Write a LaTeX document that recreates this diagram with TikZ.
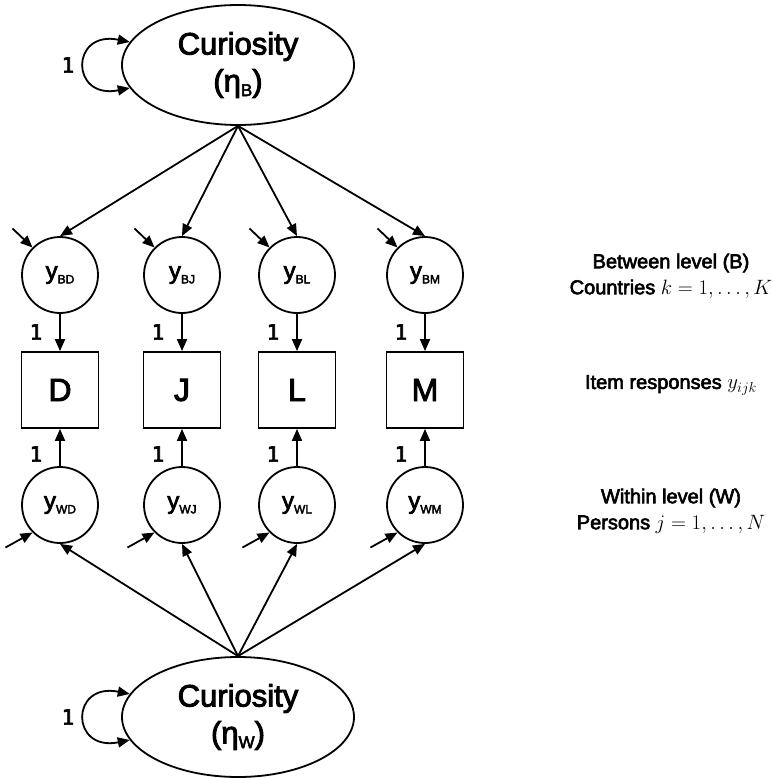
\documentclass[tikz,border=0pt]{standalone}
\usepackage{fontspec}
\setmainfont{Liberation Sans}[FakeBold=3]
\newfontfamily\monofont{DejaVu Sans Mono}[FakeBold=3]
\usetikzlibrary{arrows.meta,shapes.geometric}
\newcommand{\lsub}[2][12]{\raisebox{-4.5pt}{\fontsize{#1}{#1}\selectfont #2}}
\tikzset{
 arr/.style={line width=1.8pt, -{Triangle[length=12pt,width=10pt]}},
 dblarr/.style={line width=1.8pt, {Triangle[length=12pt,width=10pt]}-{Triangle[length=12pt,width=10pt]}},
 latent/.style={draw, line width=1.8pt, ellipse, minimum width=232pt, minimum height=120pt, inner sep=0pt, align=center, font=\fontsize{31}{37}\selectfont},
 resid/.style={draw, line width=1.8pt, circle, minimum size=76pt, inner sep=0pt, font=\fontsize{24}{24}\selectfont},
 obs/.style={draw, line width=1.8pt, rectangle, minimum width=77pt, minimum height=76pt, inner sep=0pt, font=\fontsize{32}{32}\selectfont},
 one/.style={font=\monofont\fontsize{21}{21}\selectfont},
 side/.style={align=center, font=\fontsize{20}{26}\selectfont}
}
\begin{document}
\begin{tikzpicture}[x=1pt,y=-1pt]
\useasboundingbox (0,0) rectangle (773,778);
% latent variables
\node[latent] (etaB) at (238,65) {Curiosity\\(η\lsub[17]{B})};
\node[latent] (etaW) at (238,717) {Curiosity\\(η\lsub[17]{W})};
% between circles, boxes, within circles
\foreach \n/\x in {D/60,J/182,L/297,M/425}{
  \node[resid] (yB\n) at (\x,275) {y\lsub{B\n}};
  \node[obs] (box\n) at (\x,390) {\n};
  \node[resid] (yW\n) at (\x,505) {y\lsub{W\n}};
  \draw[arr] (etaB.south) -- (yB\n.north);
  \draw[arr] (etaW.north) -- (yW\n.south);
  \draw[arr] (yB\n.south) -- (box\n.north);
  \draw[arr] (yW\n.north) -- (box\n.south);
  \path (yB\n.135) ++(-20,-19) coordinate (eB\n);
  \path (yW\n.225) ++(-27,15) coordinate (eW\n);
  \draw[arr] (eB\n) -- (yB\n.135);
  \draw[arr] (eW\n) -- (yW\n.225);
  \node[one] (oB\n) at (\x-24,332) {1};
  \node[one] (oW\n) at (\x-24,454) {1};
}
% variance loops
\draw[dblarr] (etaB.168) .. controls (70,30) and (70,100) .. (etaB.192);
\draw[dblarr] (etaW.168) .. controls (70,682) and (70,752) .. (etaW.192);
\node[one] (vB) at (68,65) {1};
\node[one] (vW) at (68,717) {1};
% side labels
\node[side] (between) at (671,276) {Between level (B)\\Countries $k=1,\ldots,K$};
\node[side] (items) at (671,385) {Item responses $y_{ijk}$};
\node[side] (within) at (671,511) {Within level (W)\\Persons $j=1,\ldots,N$};
\end{tikzpicture}
\end{document}
